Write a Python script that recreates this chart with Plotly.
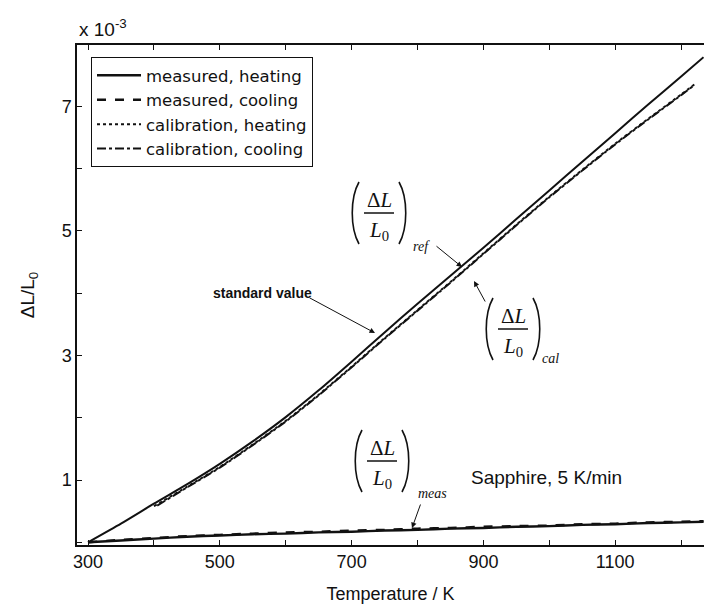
import plotly.graph_objects as go

# ---------------- data ----------------
T_std = [300, 350, 400, 450, 500, 550, 600, 650, 700, 750, 800, 850, 900,
         950, 1000, 1050, 1100, 1150, 1200, 1234]
v_std = [0.00, 0.30, 0.62, 0.93, 1.26, 1.62, 2.01, 2.44, 2.90, 3.37, 3.83,
         4.28, 4.73, 5.19, 5.65, 6.11, 6.57, 7.03, 7.48, 7.79]

T_cal_h = [400, 450, 500, 550, 600, 650, 700, 750, 800, 850, 900, 950,
           1000, 1050, 1100, 1150, 1200, 1220]
v_cal_h = [0.58, 0.89, 1.21, 1.57, 1.95, 2.37, 2.82, 3.28, 3.73, 4.18,
           4.64, 5.10, 5.55, 5.98, 6.40, 6.80, 7.19, 7.35]

T_cal_c = [405, 450, 500, 550, 600, 650, 700, 750, 800, 850, 900, 950,
           1000, 1050, 1100, 1150, 1200, 1220]
v_cal_c = [0.59, 0.88, 1.20, 1.56, 1.94, 2.36, 2.81, 3.27, 3.72, 4.17,
           4.63, 5.09, 5.54, 5.97, 6.39, 6.79, 7.18, 7.34]

T_meas = [300, 350, 400, 450, 500, 550, 600, 650, 700, 750, 800, 850, 900,
          950, 1000, 1050, 1100, 1150, 1200, 1234]
v_meas_h = [0.00, 0.03, 0.06, 0.09, 0.11, 0.13, 0.14, 0.16, 0.17, 0.19,
            0.20, 0.22, 0.23, 0.25, 0.26, 0.28, 0.29, 0.31, 0.32, 0.33]
v_meas_c = [0.00, 0.04, 0.07, 0.10, 0.12, 0.14, 0.16, 0.17, 0.19, 0.20,
            0.22, 0.23, 0.25, 0.26, 0.27, 0.29, 0.30, 0.32, 0.33, 0.34]

x_tickvals = [300, 400, 500, 600, 700, 800, 900, 1000, 1100, 1200]
x_ticktext = ["300", "", "500", "", "700", "", "900", "", "1100", ""]
y_tickvals = [0, 1, 2, 3, 4, 5, 6, 7, 8]
y_ticktext = ["", "1", "", "3", "", "5", "", "7", ""]

# ---------------- layout geometry ----------------
W, H = 704, 606
ML, MR, MT, MB = 77, 0, 45, 61
PW, PH = W - ML - MR, H - MT - MB
X_RANGE = [283.3, 1234.7]
Y_RANGE = [-0.043, 7.985]

def px(x):
    return (x - ML) / PW

def py(y):
    return (H - MB - y) / PH

BLACK = "#111111"
SANS = "Liberation Sans, Arial, Helvetica, sans-serif"
SERIF = "Liberation Serif, Times New Roman, serif"

fig = go.Figure()
fig.add_trace(go.Scatter(x=T_meas, y=v_meas_h, mode="lines", name="measured, heating",
                         line=dict(color=BLACK, width=2.4, dash="solid", shape="spline", smoothing=0.6)))
fig.add_trace(go.Scatter(x=T_meas, y=v_meas_c, mode="lines", name="measured, cooling",
                         line=dict(color=BLACK, width=2.4, dash="dash", shape="spline", smoothing=0.6)))
fig.add_trace(go.Scatter(x=T_cal_h, y=v_cal_h, mode="lines", name="calibration, heating",
                         line=dict(color=BLACK, width=2, dash="dot", shape="spline", smoothing=0.6)))
fig.add_trace(go.Scatter(x=T_cal_c, y=v_cal_c, mode="lines", name="calibration, cooling",
                         line=dict(color=BLACK, width=2, dash="dashdot", shape="spline", smoothing=0.6)))
fig.add_trace(go.Scatter(x=T_std, y=v_std, mode="lines", name="standard value",
                         showlegend=False,
                         line=dict(color=BLACK, width=2, shape="spline", smoothing=0.6)))

annotations = []
shapes = []

def text_at(x, y, text, family, size, **kw):
    d = dict(x=px(x), y=py(y), xref="paper", yref="paper", xanchor="center",
             yanchor="middle", text=text, showarrow=False,
             font=dict(family=family, size=size, color=BLACK))
    d.update(kw)
    annotations.append(d)

def add_frac(cx, bar_y, sub, sub_x, sub_y):
    text_at(cx, bar_y - 13, "Δ<i>L</i>", SERIF, 21)
    text_at(cx, bar_y + 18, "<i>L</i><sub>0</sub>", SERIF, 21)
    shapes.append(dict(type="line", xref="paper", yref="paper",
                       x0=px(cx - 15), x1=px(cx + 15), y0=py(bar_y), y1=py(bar_y),
                       line=dict(color=BLACK, width=1.5)))
    top, bot = bar_y - 31, bar_y + 31
    lx, rx = cx - 26, cx + 26
    lp = "M {:.5f},{:.5f} C {:.5f},{:.5f} {:.5f},{:.5f} {:.5f},{:.5f}".format(
        px(lx + 6), py(top), px(lx - 3), py(top + 16), px(lx - 3), py(bot - 16), px(lx + 6), py(bot))
    rp = "M {:.5f},{:.5f} C {:.5f},{:.5f} {:.5f},{:.5f} {:.5f},{:.5f}".format(
        px(rx - 6), py(top), px(rx + 3), py(top + 16), px(rx + 3), py(bot - 16), px(rx - 6), py(bot))
    for p in (lp, rp):
        shapes.append(dict(type="path", xref="paper", yref="paper", path=p,
                           line=dict(color=BLACK, width=1.6)))
    text_at(sub_x, sub_y, "<i>" + sub + "</i>", SERIF, 14)

def add_arrow(hx, hy, tx, ty):
    annotations.append(dict(x=px(hx), y=py(hy), xref="paper", yref="paper",
                            ax=tx - hx, ay=ty - hy, text="", showarrow=True,
                            arrowhead=2, arrowsize=1.1, arrowwidth=1, arrowcolor=BLACK))

add_frac(379, 213, "ref", 421, 246)
add_frac(513, 329, "cal", 550, 358)
add_frac(382, 461, "meas", 432, 493)

add_arrow(375, 333, 308, 297)
add_arrow(462, 267, 435, 245)
add_arrow(474, 281, 486, 303)
add_arrow(412, 528, 421, 503)

text_at(262, 293, "<b>standard value</b>", SANS, 14)
text_at(546, 477, "Sapphire, 5 K/min", SANS, 19)
annotations.append(dict(x=0, y=1, xref="paper", yref="paper", xanchor="left", yanchor="bottom",
                        yshift=3, text="x 10<sup>-3</sup>", showarrow=False,
                        font=dict(family=SANS, size=19, color=BLACK)))

fig.update_layout(
    width=W, height=H,
    margin=dict(l=ML, r=MR, t=MT, b=MB, pad=0),
    paper_bgcolor="white", plot_bgcolor="white",
    font=dict(family=SANS, size=18, color=BLACK),
    legend=dict(x=px(91), y=py(57), xanchor="left", yanchor="top",
                bordercolor=BLACK, borderwidth=1, bgcolor="white",
                font=dict(family="DejaVu Sans, Liberation Sans, sans-serif", size=16.5, color=BLACK),
                tracegroupgap=0, itemwidth=44),
    annotations=annotations,
    shapes=shapes,
)
fig.update_xaxes(range=X_RANGE, tickmode="array", tickvals=x_tickvals, ticktext=x_ticktext,
                 ticks="inside", ticklen=5, tickwidth=1, tickcolor=BLACK,
                 showline=True, linecolor=BLACK, linewidth=1.5, mirror="ticks",
                 showgrid=False, zeroline=False, ticklabelstandoff=0,
                 title=dict(text="Temperature / K", standoff=16,
                            font=dict(family=SANS, size=18, color=BLACK)))
fig.update_yaxes(range=Y_RANGE, tickmode="array", tickvals=y_tickvals, ticktext=y_ticktext,
                 ticks="inside", ticklen=5, tickwidth=1, tickcolor=BLACK,
                 showline=True, linecolor=BLACK, linewidth=1.5, mirror=False,
                 showgrid=False, zeroline=False, ticklabelstandoff=0,
                 title=dict(text="ΔL/L<sub>0</sub>", standoff=22,
                            font=dict(family=SANS, size=19, color=BLACK)))

fig.write_html("out.html")
